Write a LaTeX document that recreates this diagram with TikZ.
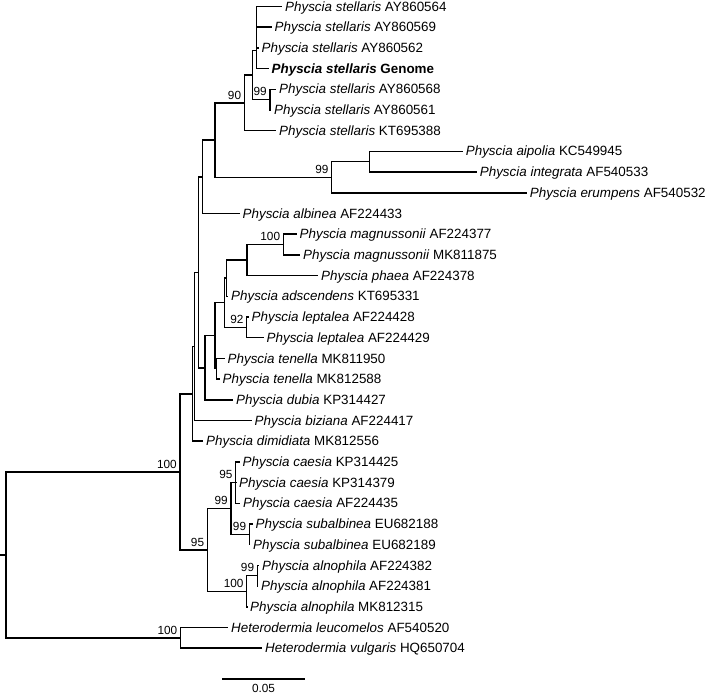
\documentclass[tikz,border=0pt]{standalone}
\usepackage{fontspec}
\setmainfont{Liberation Sans}
\begin{document}
\begin{tikzpicture}[x=1pt,y=-1pt,
  br/.style={line width=1.45pt},
  leaf/.style={anchor=base west, inner sep=0pt, xshift=3pt, yshift=-4.6pt, font=\fontsize{13.4}{16}\selectfont},
  bs/.style={anchor=south east, inner sep=0pt, xshift=-3pt, yshift=3.5pt, font=\fontsize{11.8}{14}\selectfont},
  sc/.style={inner sep=0pt, font=\fontsize{11.8}{14}\selectfont}]
\useasboundingbox (0,0) rectangle (709,695);
% internal nodes
\coordinate (B1) at (256.7,16.85);
\coordinate (B2) at (256.7,32.38);
\coordinate (B) at (256.7,50.49);
\coordinate (S99) at (270,99.65);
\coordinate (A) at (252.5,75.07);
\coordinate (N90) at (244.3,102.89);
\coordinate (AI) at (369.3,161.75);
\coordinate (N99a) at (331.7,177.28);
\coordinate (D) at (215,140.08);
\coordinate (E) at (202.5,176.79);
\coordinate (Mag) at (283.3,244.55);
\coordinate (G) at (247,260.08);
\coordinate (H) at (226.7,278.19);
\coordinate (Lep) at (246.7,327.35);
\coordinate (I) at (224.3,302.77);
\coordinate (T) at (216.3,368.75);
\coordinate (K) at (215,335.76);
\coordinate (L) at (205,367.78);
\coordinate (F) at (198.3,272.28);
\coordinate (Fp) at (194.3,346.39);
\coordinate (P) at (192.7,393.8);
\coordinate (Cae) at (235.7,482.6);
\coordinate (Sub) at (249.3,534.35);
\coordinate (N99b) at (231,508.48);
\coordinate (Aln99) at (257.3,575.75);
\coordinate (Aln100) at (246.7,591.28);
\coordinate (N95) at (207.3,549.88);
\coordinate (N100) at (180,471.84);
\coordinate (Het) at (180.5,637.85);
\coordinate (root) at (6,554.85);
\coordinate (tick) at (0,554.85);
% tips
\coordinate (t0) at (282,6.5);
\coordinate (t1) at (271.5,27.2);
\coordinate (t2) at (258.5,47.9);
\coordinate (t3) at (268.5,68.6);
\coordinate (t4) at (276,89.3);
\coordinate (t5) at (271,110.0);
\coordinate (t6) at (276,130.7);
\coordinate (t7) at (462.7,151.4);
\coordinate (t8) at (476.7,172.1);
\coordinate (t9) at (526.7,192.8);
\coordinate (t10) at (239.5,213.5);
\coordinate (t11) at (296.5,234.2);
\coordinate (t12) at (300,254.9);
\coordinate (t13) at (318,275.6);
\coordinate (t14) at (228,296.3);
\coordinate (t15) at (248.5,317.0);
\coordinate (t16) at (263.5,337.7);
\coordinate (t17) at (224.5,358.4);
\coordinate (t18) at (219.5,379.1);
\coordinate (t19) at (233,399.8);
\coordinate (t20) at (251.5,420.5);
\coordinate (t21) at (203,441.2);
\coordinate (t22) at (239.5,461.9);
\coordinate (t23) at (236,482.6);
\coordinate (t24) at (240,503.3);
\coordinate (t25) at (252.5,524.0);
\coordinate (t26) at (250,544.7);
\coordinate (t27) at (259,565.4);
\coordinate (t28) at (258,586.1);
\coordinate (t29) at (247,606.8);
\coordinate (t30) at (228,627.5);
\coordinate (t31) at (262,648.2);
% leaf labels
\node[leaf] (n0) at (t0) {\textit{Physcia stellaris} AY860564};
\node[leaf] (n1) at (t1) {\textit{Physcia stellaris} AY860569};
\node[leaf] (n2) at (t2) {\textit{Physcia stellaris} AY860562};
\node[leaf] (n3) at (t3) {\textbf{\textit{Physcia stellaris} Genome}};
\node[leaf] (n4) at (t4) {\textit{Physcia stellaris} AY860568};
\node[leaf] (n5) at (t5) {\textit{Physcia stellaris} AY860561};
\node[leaf] (n6) at (t6) {\textit{Physcia stellaris} KT695388};
\node[leaf] (n7) at (t7) {\textit{Physcia aipolia} KC549945};
\node[leaf] (n8) at (t8) {\textit{Physcia integrata} AF540533};
\node[leaf] (n9) at (t9) {\textit{Physcia erumpens} AF540532};
\node[leaf] (n10) at (t10) {\textit{Physcia albinea} AF224433};
\node[leaf] (n11) at (t11) {\textit{Physcia magnussonii} AF224377};
\node[leaf] (n12) at (t12) {\textit{Physcia magnussonii} MK811875};
\node[leaf] (n13) at (t13) {\textit{Physcia phaea} AF224378};
\node[leaf] (n14) at (t14) {\textit{Physcia adscendens} KT695331};
\node[leaf] (n15) at (t15) {\textit{Physcia leptalea} AF224428};
\node[leaf] (n16) at (t16) {\textit{Physcia leptalea} AF224429};
\node[leaf] (n17) at (t17) {\textit{Physcia tenella} MK811950};
\node[leaf] (n18) at (t18) {\textit{Physcia tenella} MK812588};
\node[leaf] (n19) at (t19) {\textit{Physcia dubia} KP314427};
\node[leaf] (n20) at (t20) {\textit{Physcia biziana} AF224417};
\node[leaf] (n21) at (t21) {\textit{Physcia dimidiata} MK812556};
\node[leaf] (n22) at (t22) {\textit{Physcia caesia} KP314425};
\node[leaf] (n23) at (t23) {\textit{Physcia caesia} KP314379};
\node[leaf] (n24) at (t24) {\textit{Physcia caesia} AF224435};
\node[leaf] (n25) at (t25) {\textit{Physcia subalbinea} EU682188};
\node[leaf] (n26) at (t26) {\textit{Physcia subalbinea} EU682189};
\node[leaf] (n27) at (t27) {\textit{Physcia alnophila} AF224382};
\node[leaf] (n28) at (t28) {\textit{Physcia alnophila} AF224381};
\node[leaf] (n29) at (t29) {\textit{Physcia alnophila} MK812315};
\node[leaf] (n30) at (t30) {\textit{Heterodermia leucomelos} AF540520};
\node[leaf] (n31) at (t31) {\textit{Heterodermia vulgaris} HQ650704};
% branches
\foreach \p/\c in {B1/t0,B1/t1,B2/B1,B2/t2,B/B2,B/t3,S99/t4,S99/t5,A/B,A/S99,
  N90/A,N90/t6,AI/t7,AI/t8,N99a/AI,N99a/t9,D/N90,D/N99a,E/D,E/t10,
  Mag/t11,Mag/t12,G/Mag,G/t13,H/G,H/t14,Lep/t15,Lep/t16,I/H,I/Lep,
  T/t17,T/t18,K/I,K/T,L/K,L/t19,F/E,F/L,Fp/F,Fp/t20,P/Fp,P/t21,
  Cae/t22,Cae/t23,Cae/t24,Sub/t25,Sub/t26,N99b/Cae,N99b/Sub,
  Aln99/t27,Aln99/t28,Aln100/Aln99,Aln100/t29,N95/N99b,N95/Aln100,
  N100/P,N100/N95,Het/t30,Het/t31,root/N100,root/Het}
  \draw[br] (\p) |- (\c);
\draw[br] (tick) -- (root);
% bootstrap values
\node[bs] (b90) at (N90) {90};
\node[bs] (b99a) at (N99a) {99};
\node[bs] (b99s) at (S99) {99};
\node[bs] (b100m) at (Mag) {100};
\node[bs] (b92) at (Lep) {92};
\node[bs] (b100) at (N100) {100};
\node[bs] (b95c) at (Cae) {95};
\node[bs] (b99b) at (N99b) {99};
\node[bs] (b95) at (N95) {95};
\node[bs] (b99sub) at (Sub) {99};
\node[bs] (b99al) at (Aln99) {99};
\node[bs] (b100al) at (Aln100) {100};
\node[bs] (b100h) at (Het) {100};
% scale bar
\coordinate (sbL) at (222,679);
\coordinate (sbR) at (305,679);
\draw[line width=1.2pt] (sbL) -- (sbR);
\node[sc] (sblab) at (263.5,688.5) {0.05};
\end{tikzpicture}
\end{document}
